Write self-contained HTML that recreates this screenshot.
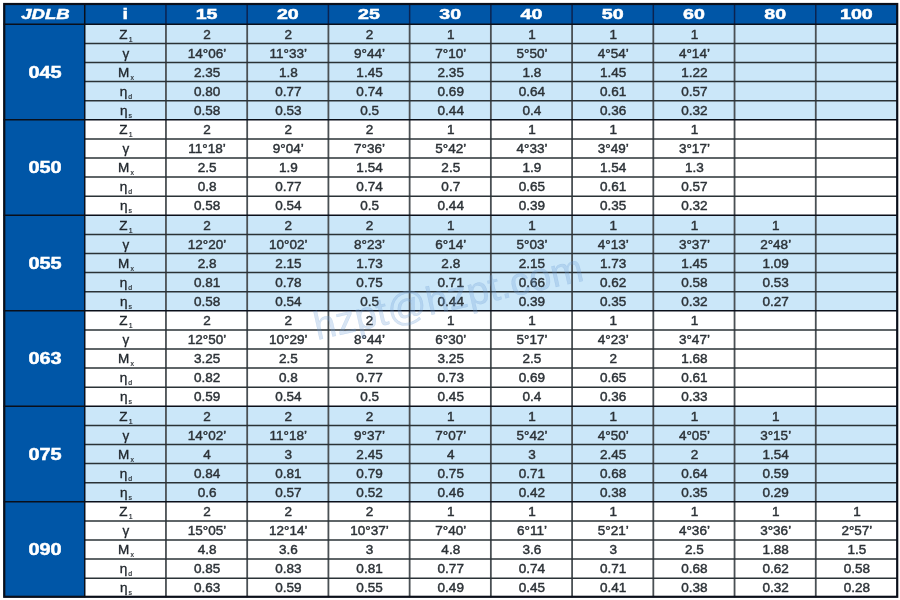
<!DOCTYPE html>
<html><head><meta charset="utf-8"><style>
html,body{margin:0;padding:0;background:#fff;width:900px;height:600px;overflow:hidden}
svg{display:block;filter:blur(0.35px)}
text{font-family:"Liberation Sans",sans-serif;text-anchor:middle}
.h{font-size:15.2px;font-weight:bold;fill:#fff;stroke:#fff;stroke-width:0.5}
.g{font-size:15.8px;font-weight:bold;fill:#fff;stroke:#fff;stroke-width:0.5}
.d{font-size:12.3px;fill:#2c3237;stroke:#2c3237;stroke-width:0.42}
.p{fill:#22282e;stroke:#22282e;stroke-width:0.3}
.sub{font-size:6.3px;stroke-width:0.15}
.wm{font-size:39.5px;fill:#6f9fd6;fill-opacity:0.27;stroke:#6f9fd6;stroke-opacity:0.27;stroke-width:0.4;text-anchor:start}
</style></head><body>
<svg width="900" height="600" viewBox="0 0 900 600">
<rect x="0" y="0" width="900" height="600" fill="#fff"/>
<rect x="3.5" y="3.3" width="893.5" height="21.0" fill="#0056a7"/>
<rect x="3.5" y="24.3" width="81.22727272727273" height="573.0" fill="#0056a7"/>
<rect x="84.72727272727273" y="24.3" width="812.2727272727273" height="95.5" fill="#cbe7f9"/>
<rect x="84.72727272727273" y="119.8" width="812.2727272727273" height="95.5" fill="#ffffff"/>
<rect x="84.72727272727273" y="215.3" width="812.2727272727273" height="95.5" fill="#cbe7f9"/>
<rect x="84.72727272727273" y="310.8" width="812.2727272727273" height="95.5" fill="#ffffff"/>
<rect x="84.72727272727273" y="406.3" width="812.2727272727273" height="95.5" fill="#cbe7f9"/>
<rect x="84.72727272727273" y="501.80000000000007" width="812.2727272727273" height="95.5" fill="#ffffff"/>
<line x1="165.95454545454547" y1="24.3" x2="165.95454545454547" y2="597.3" stroke="#4a5054" stroke-width="1.8"/>
<line x1="165.95454545454547" y1="3.3" x2="165.95454545454547" y2="24.3" stroke="#0b2350" stroke-width="1.5"/>
<line x1="247.1818181818182" y1="24.3" x2="247.1818181818182" y2="597.3" stroke="#4a5054" stroke-width="1.8"/>
<line x1="247.1818181818182" y1="3.3" x2="247.1818181818182" y2="24.3" stroke="#0b2350" stroke-width="1.5"/>
<line x1="328.40909090909093" y1="24.3" x2="328.40909090909093" y2="597.3" stroke="#4a5054" stroke-width="1.8"/>
<line x1="328.40909090909093" y1="3.3" x2="328.40909090909093" y2="24.3" stroke="#0b2350" stroke-width="1.5"/>
<line x1="409.6363636363637" y1="24.3" x2="409.6363636363637" y2="597.3" stroke="#4a5054" stroke-width="1.8"/>
<line x1="409.6363636363637" y1="3.3" x2="409.6363636363637" y2="24.3" stroke="#0b2350" stroke-width="1.5"/>
<line x1="490.8636363636364" y1="24.3" x2="490.8636363636364" y2="597.3" stroke="#4a5054" stroke-width="1.8"/>
<line x1="490.8636363636364" y1="3.3" x2="490.8636363636364" y2="24.3" stroke="#0b2350" stroke-width="1.5"/>
<line x1="572.0909090909091" y1="24.3" x2="572.0909090909091" y2="597.3" stroke="#4a5054" stroke-width="1.8"/>
<line x1="572.0909090909091" y1="3.3" x2="572.0909090909091" y2="24.3" stroke="#0b2350" stroke-width="1.5"/>
<line x1="653.3181818181819" y1="24.3" x2="653.3181818181819" y2="597.3" stroke="#4a5054" stroke-width="1.8"/>
<line x1="653.3181818181819" y1="3.3" x2="653.3181818181819" y2="24.3" stroke="#0b2350" stroke-width="1.5"/>
<line x1="734.5454545454546" y1="24.3" x2="734.5454545454546" y2="597.3" stroke="#4a5054" stroke-width="1.8"/>
<line x1="734.5454545454546" y1="3.3" x2="734.5454545454546" y2="24.3" stroke="#0b2350" stroke-width="1.5"/>
<line x1="815.7727272727274" y1="24.3" x2="815.7727272727274" y2="597.3" stroke="#4a5054" stroke-width="1.8"/>
<line x1="815.7727272727274" y1="3.3" x2="815.7727272727274" y2="24.3" stroke="#0b2350" stroke-width="1.5"/>
<line x1="84.72727272727273" y1="43.400000000000006" x2="897.0" y2="43.400000000000006" stroke="#2a3236" stroke-width="1.5"/>
<line x1="84.72727272727273" y1="62.5" x2="897.0" y2="62.5" stroke="#2a3236" stroke-width="1.5"/>
<line x1="84.72727272727273" y1="81.60000000000001" x2="897.0" y2="81.60000000000001" stroke="#2a3236" stroke-width="1.5"/>
<line x1="84.72727272727273" y1="100.7" x2="897.0" y2="100.7" stroke="#2a3236" stroke-width="1.5"/>
<line x1="3.5" y1="119.8" x2="897.0" y2="119.8" stroke="#0a0f1a" stroke-width="1.5"/>
<line x1="84.72727272727273" y1="138.9" x2="897.0" y2="138.9" stroke="#2a3236" stroke-width="1.5"/>
<line x1="84.72727272727273" y1="158.00000000000003" x2="897.0" y2="158.00000000000003" stroke="#2a3236" stroke-width="1.5"/>
<line x1="84.72727272727273" y1="177.10000000000002" x2="897.0" y2="177.10000000000002" stroke="#2a3236" stroke-width="1.5"/>
<line x1="84.72727272727273" y1="196.20000000000002" x2="897.0" y2="196.20000000000002" stroke="#2a3236" stroke-width="1.5"/>
<line x1="3.5" y1="215.3" x2="897.0" y2="215.3" stroke="#0a0f1a" stroke-width="1.5"/>
<line x1="84.72727272727273" y1="234.40000000000003" x2="897.0" y2="234.40000000000003" stroke="#2a3236" stroke-width="1.5"/>
<line x1="84.72727272727273" y1="253.50000000000003" x2="897.0" y2="253.50000000000003" stroke="#2a3236" stroke-width="1.5"/>
<line x1="84.72727272727273" y1="272.6" x2="897.0" y2="272.6" stroke="#2a3236" stroke-width="1.5"/>
<line x1="84.72727272727273" y1="291.70000000000005" x2="897.0" y2="291.70000000000005" stroke="#2a3236" stroke-width="1.5"/>
<line x1="3.5" y1="310.8" x2="897.0" y2="310.8" stroke="#0a0f1a" stroke-width="1.5"/>
<line x1="84.72727272727273" y1="329.90000000000003" x2="897.0" y2="329.90000000000003" stroke="#2a3236" stroke-width="1.5"/>
<line x1="84.72727272727273" y1="349.00000000000006" x2="897.0" y2="349.00000000000006" stroke="#2a3236" stroke-width="1.5"/>
<line x1="84.72727272727273" y1="368.1" x2="897.0" y2="368.1" stroke="#2a3236" stroke-width="1.5"/>
<line x1="84.72727272727273" y1="387.20000000000005" x2="897.0" y2="387.20000000000005" stroke="#2a3236" stroke-width="1.5"/>
<line x1="3.5" y1="406.3" x2="897.0" y2="406.3" stroke="#0a0f1a" stroke-width="1.5"/>
<line x1="84.72727272727273" y1="425.40000000000003" x2="897.0" y2="425.40000000000003" stroke="#2a3236" stroke-width="1.5"/>
<line x1="84.72727272727273" y1="444.50000000000006" x2="897.0" y2="444.50000000000006" stroke="#2a3236" stroke-width="1.5"/>
<line x1="84.72727272727273" y1="463.6" x2="897.0" y2="463.6" stroke="#2a3236" stroke-width="1.5"/>
<line x1="84.72727272727273" y1="482.70000000000005" x2="897.0" y2="482.70000000000005" stroke="#2a3236" stroke-width="1.5"/>
<line x1="3.5" y1="501.80000000000007" x2="897.0" y2="501.80000000000007" stroke="#0a0f1a" stroke-width="1.5"/>
<line x1="84.72727272727273" y1="520.9" x2="897.0" y2="520.9" stroke="#2a3236" stroke-width="1.5"/>
<line x1="84.72727272727273" y1="540.0" x2="897.0" y2="540.0" stroke="#2a3236" stroke-width="1.5"/>
<line x1="84.72727272727273" y1="559.1" x2="897.0" y2="559.1" stroke="#2a3236" stroke-width="1.5"/>
<line x1="84.72727272727273" y1="578.2" x2="897.0" y2="578.2" stroke="#2a3236" stroke-width="1.5"/>
<line x1="84.72727272727273" y1="3.3" x2="84.72727272727273" y2="597.3" stroke="#0a0f1a" stroke-width="1.5"/>
<line x1="3.5" y1="24.3" x2="897.0" y2="24.3" stroke="#0a0f1a" stroke-width="1.5"/>
<rect x="4.25" y="4.0" width="892.95" height="592.8" fill="none" stroke="#0a0f1a" stroke-width="2.2"/>
<text transform="translate(45.41,18.70) scale(1.22,1)" class="h" style="font-style:italic;">JDLB</text>
<text transform="translate(125.34,18.70) scale(1.29,1)" class="h" style="">i</text>
<text transform="translate(206.57,18.70) scale(1.29,1)" class="h" style="">15</text>
<text transform="translate(287.80,18.70) scale(1.29,1)" class="h" style="">20</text>
<text transform="translate(369.02,18.70) scale(1.29,1)" class="h" style="">25</text>
<text transform="translate(450.25,18.70) scale(1.29,1)" class="h" style="">30</text>
<text transform="translate(531.48,18.70) scale(1.29,1)" class="h" style="">40</text>
<text transform="translate(612.70,18.70) scale(1.29,1)" class="h" style="">50</text>
<text transform="translate(693.93,18.70) scale(1.29,1)" class="h" style="">60</text>
<text transform="translate(775.16,18.70) scale(1.29,1)" class="h" style="">80</text>
<text transform="translate(856.39,18.70) scale(1.29,1)" class="h" style="">100</text>
<text transform="translate(45.01,77.74) scale(1.26,1)" class="g">045</text>
<text transform="translate(125.94,38.50) scale(1.1,1)" class="d p">Z<tspan class="sub" dx="1" dy="3">1</tspan></text>
<text transform="translate(207.07,38.50) scale(1.1,1)" class="d">2</text>
<text transform="translate(288.30,38.50) scale(1.1,1)" class="d">2</text>
<text transform="translate(369.52,38.50) scale(1.1,1)" class="d">2</text>
<text transform="translate(450.75,38.50) scale(1.1,1)" class="d">1</text>
<text transform="translate(531.98,38.50) scale(1.1,1)" class="d">1</text>
<text transform="translate(613.20,38.50) scale(1.1,1)" class="d">1</text>
<text transform="translate(694.43,38.50) scale(1.1,1)" class="d">1</text>
<text transform="translate(125.94,57.60) scale(1.1,1)" class="d p">γ</text>
<text transform="translate(207.07,57.60) scale(1.1,1)" class="d">14°06’</text>
<text transform="translate(288.30,57.60) scale(1.1,1)" class="d">11°33’</text>
<text transform="translate(369.52,57.60) scale(1.1,1)" class="d">9°44’</text>
<text transform="translate(450.75,57.60) scale(1.1,1)" class="d">7°10’</text>
<text transform="translate(531.98,57.60) scale(1.1,1)" class="d">5°50’</text>
<text transform="translate(613.20,57.60) scale(1.1,1)" class="d">4°54’</text>
<text transform="translate(694.43,57.60) scale(1.1,1)" class="d">4°14’</text>
<text transform="translate(125.94,76.70) scale(1.1,1)" class="d p">M<tspan class="sub" dx="1" dy="3">x</tspan></text>
<text transform="translate(207.07,76.70) scale(1.1,1)" class="d">2.35</text>
<text transform="translate(288.30,76.70) scale(1.1,1)" class="d">1.8</text>
<text transform="translate(369.52,76.70) scale(1.1,1)" class="d">1.45</text>
<text transform="translate(450.75,76.70) scale(1.1,1)" class="d">2.35</text>
<text transform="translate(531.98,76.70) scale(1.1,1)" class="d">1.8</text>
<text transform="translate(613.20,76.70) scale(1.1,1)" class="d">1.45</text>
<text transform="translate(694.43,76.70) scale(1.1,1)" class="d">1.22</text>
<text transform="translate(125.94,95.80) scale(1.1,1)" class="d p">η<tspan class="sub" dx="1" dy="3">d</tspan></text>
<text transform="translate(207.07,95.80) scale(1.1,1)" class="d">0.80</text>
<text transform="translate(288.30,95.80) scale(1.1,1)" class="d">0.77</text>
<text transform="translate(369.52,95.80) scale(1.1,1)" class="d">0.74</text>
<text transform="translate(450.75,95.80) scale(1.1,1)" class="d">0.69</text>
<text transform="translate(531.98,95.80) scale(1.1,1)" class="d">0.64</text>
<text transform="translate(613.20,95.80) scale(1.1,1)" class="d">0.61</text>
<text transform="translate(694.43,95.80) scale(1.1,1)" class="d">0.57</text>
<text transform="translate(125.94,114.90) scale(1.1,1)" class="d p">η<tspan class="sub" dx="1" dy="3">s</tspan></text>
<text transform="translate(207.07,114.90) scale(1.1,1)" class="d">0.58</text>
<text transform="translate(288.30,114.90) scale(1.1,1)" class="d">0.53</text>
<text transform="translate(369.52,114.90) scale(1.1,1)" class="d">0.5</text>
<text transform="translate(450.75,114.90) scale(1.1,1)" class="d">0.44</text>
<text transform="translate(531.98,114.90) scale(1.1,1)" class="d">0.4</text>
<text transform="translate(613.20,114.90) scale(1.1,1)" class="d">0.36</text>
<text transform="translate(694.43,114.90) scale(1.1,1)" class="d">0.32</text>
<text transform="translate(45.01,173.24) scale(1.26,1)" class="g">050</text>
<text transform="translate(125.94,134.00) scale(1.1,1)" class="d p">Z<tspan class="sub" dx="1" dy="3">1</tspan></text>
<text transform="translate(207.07,134.00) scale(1.1,1)" class="d">2</text>
<text transform="translate(288.30,134.00) scale(1.1,1)" class="d">2</text>
<text transform="translate(369.52,134.00) scale(1.1,1)" class="d">2</text>
<text transform="translate(450.75,134.00) scale(1.1,1)" class="d">1</text>
<text transform="translate(531.98,134.00) scale(1.1,1)" class="d">1</text>
<text transform="translate(613.20,134.00) scale(1.1,1)" class="d">1</text>
<text transform="translate(694.43,134.00) scale(1.1,1)" class="d">1</text>
<text transform="translate(125.94,153.10) scale(1.1,1)" class="d p">γ</text>
<text transform="translate(207.07,153.10) scale(1.1,1)" class="d">11°18’</text>
<text transform="translate(288.30,153.10) scale(1.1,1)" class="d">9°04’</text>
<text transform="translate(369.52,153.10) scale(1.1,1)" class="d">7°36’</text>
<text transform="translate(450.75,153.10) scale(1.1,1)" class="d">5°42’</text>
<text transform="translate(531.98,153.10) scale(1.1,1)" class="d">4°33’</text>
<text transform="translate(613.20,153.10) scale(1.1,1)" class="d">3°49’</text>
<text transform="translate(694.43,153.10) scale(1.1,1)" class="d">3°17’</text>
<text transform="translate(125.94,172.20) scale(1.1,1)" class="d p">M<tspan class="sub" dx="1" dy="3">x</tspan></text>
<text transform="translate(207.07,172.20) scale(1.1,1)" class="d">2.5</text>
<text transform="translate(288.30,172.20) scale(1.1,1)" class="d">1.9</text>
<text transform="translate(369.52,172.20) scale(1.1,1)" class="d">1.54</text>
<text transform="translate(450.75,172.20) scale(1.1,1)" class="d">2.5</text>
<text transform="translate(531.98,172.20) scale(1.1,1)" class="d">1.9</text>
<text transform="translate(613.20,172.20) scale(1.1,1)" class="d">1.54</text>
<text transform="translate(694.43,172.20) scale(1.1,1)" class="d">1.3</text>
<text transform="translate(125.94,191.30) scale(1.1,1)" class="d p">η<tspan class="sub" dx="1" dy="3">d</tspan></text>
<text transform="translate(207.07,191.30) scale(1.1,1)" class="d">0.8</text>
<text transform="translate(288.30,191.30) scale(1.1,1)" class="d">0.77</text>
<text transform="translate(369.52,191.30) scale(1.1,1)" class="d">0.74</text>
<text transform="translate(450.75,191.30) scale(1.1,1)" class="d">0.7</text>
<text transform="translate(531.98,191.30) scale(1.1,1)" class="d">0.65</text>
<text transform="translate(613.20,191.30) scale(1.1,1)" class="d">0.61</text>
<text transform="translate(694.43,191.30) scale(1.1,1)" class="d">0.57</text>
<text transform="translate(125.94,210.40) scale(1.1,1)" class="d p">η<tspan class="sub" dx="1" dy="3">s</tspan></text>
<text transform="translate(207.07,210.40) scale(1.1,1)" class="d">0.58</text>
<text transform="translate(288.30,210.40) scale(1.1,1)" class="d">0.54</text>
<text transform="translate(369.52,210.40) scale(1.1,1)" class="d">0.5</text>
<text transform="translate(450.75,210.40) scale(1.1,1)" class="d">0.44</text>
<text transform="translate(531.98,210.40) scale(1.1,1)" class="d">0.39</text>
<text transform="translate(613.20,210.40) scale(1.1,1)" class="d">0.35</text>
<text transform="translate(694.43,210.40) scale(1.1,1)" class="d">0.32</text>
<text transform="translate(45.01,268.74) scale(1.26,1)" class="g">055</text>
<text transform="translate(125.94,229.50) scale(1.1,1)" class="d p">Z<tspan class="sub" dx="1" dy="3">1</tspan></text>
<text transform="translate(207.07,229.50) scale(1.1,1)" class="d">2</text>
<text transform="translate(288.30,229.50) scale(1.1,1)" class="d">2</text>
<text transform="translate(369.52,229.50) scale(1.1,1)" class="d">2</text>
<text transform="translate(450.75,229.50) scale(1.1,1)" class="d">1</text>
<text transform="translate(531.98,229.50) scale(1.1,1)" class="d">1</text>
<text transform="translate(613.20,229.50) scale(1.1,1)" class="d">1</text>
<text transform="translate(694.43,229.50) scale(1.1,1)" class="d">1</text>
<text transform="translate(775.66,229.50) scale(1.1,1)" class="d">1</text>
<text transform="translate(125.94,248.60) scale(1.1,1)" class="d p">γ</text>
<text transform="translate(207.07,248.60) scale(1.1,1)" class="d">12°20’</text>
<text transform="translate(288.30,248.60) scale(1.1,1)" class="d">10°02’</text>
<text transform="translate(369.52,248.60) scale(1.1,1)" class="d">8°23’</text>
<text transform="translate(450.75,248.60) scale(1.1,1)" class="d">6°14’</text>
<text transform="translate(531.98,248.60) scale(1.1,1)" class="d">5°03’</text>
<text transform="translate(613.20,248.60) scale(1.1,1)" class="d">4°13’</text>
<text transform="translate(694.43,248.60) scale(1.1,1)" class="d">3°37’</text>
<text transform="translate(775.66,248.60) scale(1.1,1)" class="d">2°48’</text>
<text transform="translate(125.94,267.70) scale(1.1,1)" class="d p">M<tspan class="sub" dx="1" dy="3">x</tspan></text>
<text transform="translate(207.07,267.70) scale(1.1,1)" class="d">2.8</text>
<text transform="translate(288.30,267.70) scale(1.1,1)" class="d">2.15</text>
<text transform="translate(369.52,267.70) scale(1.1,1)" class="d">1.73</text>
<text transform="translate(450.75,267.70) scale(1.1,1)" class="d">2.8</text>
<text transform="translate(531.98,267.70) scale(1.1,1)" class="d">2.15</text>
<text transform="translate(613.20,267.70) scale(1.1,1)" class="d">1.73</text>
<text transform="translate(694.43,267.70) scale(1.1,1)" class="d">1.45</text>
<text transform="translate(775.66,267.70) scale(1.1,1)" class="d">1.09</text>
<text transform="translate(125.94,286.80) scale(1.1,1)" class="d p">η<tspan class="sub" dx="1" dy="3">d</tspan></text>
<text transform="translate(207.07,286.80) scale(1.1,1)" class="d">0.81</text>
<text transform="translate(288.30,286.80) scale(1.1,1)" class="d">0.78</text>
<text transform="translate(369.52,286.80) scale(1.1,1)" class="d">0.75</text>
<text transform="translate(450.75,286.80) scale(1.1,1)" class="d">0.71</text>
<text transform="translate(531.98,286.80) scale(1.1,1)" class="d">0.66</text>
<text transform="translate(613.20,286.80) scale(1.1,1)" class="d">0.62</text>
<text transform="translate(694.43,286.80) scale(1.1,1)" class="d">0.58</text>
<text transform="translate(775.66,286.80) scale(1.1,1)" class="d">0.53</text>
<text transform="translate(125.94,305.90) scale(1.1,1)" class="d p">η<tspan class="sub" dx="1" dy="3">s</tspan></text>
<text transform="translate(207.07,305.90) scale(1.1,1)" class="d">0.58</text>
<text transform="translate(288.30,305.90) scale(1.1,1)" class="d">0.54</text>
<text transform="translate(369.52,305.90) scale(1.1,1)" class="d">0.5</text>
<text transform="translate(450.75,305.90) scale(1.1,1)" class="d">0.44</text>
<text transform="translate(531.98,305.90) scale(1.1,1)" class="d">0.39</text>
<text transform="translate(613.20,305.90) scale(1.1,1)" class="d">0.35</text>
<text transform="translate(694.43,305.90) scale(1.1,1)" class="d">0.32</text>
<text transform="translate(775.66,305.90) scale(1.1,1)" class="d">0.27</text>
<text transform="translate(45.01,364.24) scale(1.26,1)" class="g">063</text>
<text transform="translate(125.94,325.00) scale(1.1,1)" class="d p">Z<tspan class="sub" dx="1" dy="3">1</tspan></text>
<text transform="translate(207.07,325.00) scale(1.1,1)" class="d">2</text>
<text transform="translate(288.30,325.00) scale(1.1,1)" class="d">2</text>
<text transform="translate(369.52,325.00) scale(1.1,1)" class="d">2</text>
<text transform="translate(450.75,325.00) scale(1.1,1)" class="d">1</text>
<text transform="translate(531.98,325.00) scale(1.1,1)" class="d">1</text>
<text transform="translate(613.20,325.00) scale(1.1,1)" class="d">1</text>
<text transform="translate(694.43,325.00) scale(1.1,1)" class="d">1</text>
<text transform="translate(125.94,344.10) scale(1.1,1)" class="d p">γ</text>
<text transform="translate(207.07,344.10) scale(1.1,1)" class="d">12°50’</text>
<text transform="translate(288.30,344.10) scale(1.1,1)" class="d">10°29’</text>
<text transform="translate(369.52,344.10) scale(1.1,1)" class="d">8°44’</text>
<text transform="translate(450.75,344.10) scale(1.1,1)" class="d">6°30’</text>
<text transform="translate(531.98,344.10) scale(1.1,1)" class="d">5°17’</text>
<text transform="translate(613.20,344.10) scale(1.1,1)" class="d">4°23’</text>
<text transform="translate(694.43,344.10) scale(1.1,1)" class="d">3°47’</text>
<text transform="translate(125.94,363.20) scale(1.1,1)" class="d p">M<tspan class="sub" dx="1" dy="3">x</tspan></text>
<text transform="translate(207.07,363.20) scale(1.1,1)" class="d">3.25</text>
<text transform="translate(288.30,363.20) scale(1.1,1)" class="d">2.5</text>
<text transform="translate(369.52,363.20) scale(1.1,1)" class="d">2</text>
<text transform="translate(450.75,363.20) scale(1.1,1)" class="d">3.25</text>
<text transform="translate(531.98,363.20) scale(1.1,1)" class="d">2.5</text>
<text transform="translate(613.20,363.20) scale(1.1,1)" class="d">2</text>
<text transform="translate(694.43,363.20) scale(1.1,1)" class="d">1.68</text>
<text transform="translate(125.94,382.30) scale(1.1,1)" class="d p">η<tspan class="sub" dx="1" dy="3">d</tspan></text>
<text transform="translate(207.07,382.30) scale(1.1,1)" class="d">0.82</text>
<text transform="translate(288.30,382.30) scale(1.1,1)" class="d">0.8</text>
<text transform="translate(369.52,382.30) scale(1.1,1)" class="d">0.77</text>
<text transform="translate(450.75,382.30) scale(1.1,1)" class="d">0.73</text>
<text transform="translate(531.98,382.30) scale(1.1,1)" class="d">0.69</text>
<text transform="translate(613.20,382.30) scale(1.1,1)" class="d">0.65</text>
<text transform="translate(694.43,382.30) scale(1.1,1)" class="d">0.61</text>
<text transform="translate(125.94,401.40) scale(1.1,1)" class="d p">η<tspan class="sub" dx="1" dy="3">s</tspan></text>
<text transform="translate(207.07,401.40) scale(1.1,1)" class="d">0.59</text>
<text transform="translate(288.30,401.40) scale(1.1,1)" class="d">0.54</text>
<text transform="translate(369.52,401.40) scale(1.1,1)" class="d">0.5</text>
<text transform="translate(450.75,401.40) scale(1.1,1)" class="d">0.45</text>
<text transform="translate(531.98,401.40) scale(1.1,1)" class="d">0.4</text>
<text transform="translate(613.20,401.40) scale(1.1,1)" class="d">0.36</text>
<text transform="translate(694.43,401.40) scale(1.1,1)" class="d">0.33</text>
<text transform="translate(45.01,459.74) scale(1.26,1)" class="g">075</text>
<text transform="translate(125.94,420.50) scale(1.1,1)" class="d p">Z<tspan class="sub" dx="1" dy="3">1</tspan></text>
<text transform="translate(207.07,420.50) scale(1.1,1)" class="d">2</text>
<text transform="translate(288.30,420.50) scale(1.1,1)" class="d">2</text>
<text transform="translate(369.52,420.50) scale(1.1,1)" class="d">2</text>
<text transform="translate(450.75,420.50) scale(1.1,1)" class="d">1</text>
<text transform="translate(531.98,420.50) scale(1.1,1)" class="d">1</text>
<text transform="translate(613.20,420.50) scale(1.1,1)" class="d">1</text>
<text transform="translate(694.43,420.50) scale(1.1,1)" class="d">1</text>
<text transform="translate(775.66,420.50) scale(1.1,1)" class="d">1</text>
<text transform="translate(125.94,439.60) scale(1.1,1)" class="d p">γ</text>
<text transform="translate(207.07,439.60) scale(1.1,1)" class="d">14°02’</text>
<text transform="translate(288.30,439.60) scale(1.1,1)" class="d">11°18’</text>
<text transform="translate(369.52,439.60) scale(1.1,1)" class="d">9°37’</text>
<text transform="translate(450.75,439.60) scale(1.1,1)" class="d">7°07’</text>
<text transform="translate(531.98,439.60) scale(1.1,1)" class="d">5°42’</text>
<text transform="translate(613.20,439.60) scale(1.1,1)" class="d">4°50’</text>
<text transform="translate(694.43,439.60) scale(1.1,1)" class="d">4°05’</text>
<text transform="translate(775.66,439.60) scale(1.1,1)" class="d">3°15’</text>
<text transform="translate(125.94,458.70) scale(1.1,1)" class="d p">M<tspan class="sub" dx="1" dy="3">x</tspan></text>
<text transform="translate(207.07,458.70) scale(1.1,1)" class="d">4</text>
<text transform="translate(288.30,458.70) scale(1.1,1)" class="d">3</text>
<text transform="translate(369.52,458.70) scale(1.1,1)" class="d">2.45</text>
<text transform="translate(450.75,458.70) scale(1.1,1)" class="d">4</text>
<text transform="translate(531.98,458.70) scale(1.1,1)" class="d">3</text>
<text transform="translate(613.20,458.70) scale(1.1,1)" class="d">2.45</text>
<text transform="translate(694.43,458.70) scale(1.1,1)" class="d">2</text>
<text transform="translate(775.66,458.70) scale(1.1,1)" class="d">1.54</text>
<text transform="translate(125.94,477.80) scale(1.1,1)" class="d p">η<tspan class="sub" dx="1" dy="3">d</tspan></text>
<text transform="translate(207.07,477.80) scale(1.1,1)" class="d">0.84</text>
<text transform="translate(288.30,477.80) scale(1.1,1)" class="d">0.81</text>
<text transform="translate(369.52,477.80) scale(1.1,1)" class="d">0.79</text>
<text transform="translate(450.75,477.80) scale(1.1,1)" class="d">0.75</text>
<text transform="translate(531.98,477.80) scale(1.1,1)" class="d">0.71</text>
<text transform="translate(613.20,477.80) scale(1.1,1)" class="d">0.68</text>
<text transform="translate(694.43,477.80) scale(1.1,1)" class="d">0.64</text>
<text transform="translate(775.66,477.80) scale(1.1,1)" class="d">0.59</text>
<text transform="translate(125.94,496.90) scale(1.1,1)" class="d p">η<tspan class="sub" dx="1" dy="3">s</tspan></text>
<text transform="translate(207.07,496.90) scale(1.1,1)" class="d">0.6</text>
<text transform="translate(288.30,496.90) scale(1.1,1)" class="d">0.57</text>
<text transform="translate(369.52,496.90) scale(1.1,1)" class="d">0.52</text>
<text transform="translate(450.75,496.90) scale(1.1,1)" class="d">0.46</text>
<text transform="translate(531.98,496.90) scale(1.1,1)" class="d">0.42</text>
<text transform="translate(613.20,496.90) scale(1.1,1)" class="d">0.38</text>
<text transform="translate(694.43,496.90) scale(1.1,1)" class="d">0.35</text>
<text transform="translate(775.66,496.90) scale(1.1,1)" class="d">0.29</text>
<text transform="translate(45.01,555.24) scale(1.26,1)" class="g">090</text>
<text transform="translate(125.94,516.00) scale(1.1,1)" class="d p">Z<tspan class="sub" dx="1" dy="3">1</tspan></text>
<text transform="translate(207.07,516.00) scale(1.1,1)" class="d">2</text>
<text transform="translate(288.30,516.00) scale(1.1,1)" class="d">2</text>
<text transform="translate(369.52,516.00) scale(1.1,1)" class="d">2</text>
<text transform="translate(450.75,516.00) scale(1.1,1)" class="d">1</text>
<text transform="translate(531.98,516.00) scale(1.1,1)" class="d">1</text>
<text transform="translate(613.20,516.00) scale(1.1,1)" class="d">1</text>
<text transform="translate(694.43,516.00) scale(1.1,1)" class="d">1</text>
<text transform="translate(775.66,516.00) scale(1.1,1)" class="d">1</text>
<text transform="translate(856.89,516.00) scale(1.1,1)" class="d">1</text>
<text transform="translate(125.94,535.10) scale(1.1,1)" class="d p">γ</text>
<text transform="translate(207.07,535.10) scale(1.1,1)" class="d">15°05’</text>
<text transform="translate(288.30,535.10) scale(1.1,1)" class="d">12°14’</text>
<text transform="translate(369.52,535.10) scale(1.1,1)" class="d">10°37’</text>
<text transform="translate(450.75,535.10) scale(1.1,1)" class="d">7°40’</text>
<text transform="translate(531.98,535.10) scale(1.1,1)" class="d">6°11’</text>
<text transform="translate(613.20,535.10) scale(1.1,1)" class="d">5°21’</text>
<text transform="translate(694.43,535.10) scale(1.1,1)" class="d">4°36’</text>
<text transform="translate(775.66,535.10) scale(1.1,1)" class="d">3°36’</text>
<text transform="translate(856.89,535.10) scale(1.1,1)" class="d">2°57’</text>
<text transform="translate(125.94,554.20) scale(1.1,1)" class="d p">M<tspan class="sub" dx="1" dy="3">x</tspan></text>
<text transform="translate(207.07,554.20) scale(1.1,1)" class="d">4.8</text>
<text transform="translate(288.30,554.20) scale(1.1,1)" class="d">3.6</text>
<text transform="translate(369.52,554.20) scale(1.1,1)" class="d">3</text>
<text transform="translate(450.75,554.20) scale(1.1,1)" class="d">4.8</text>
<text transform="translate(531.98,554.20) scale(1.1,1)" class="d">3.6</text>
<text transform="translate(613.20,554.20) scale(1.1,1)" class="d">3</text>
<text transform="translate(694.43,554.20) scale(1.1,1)" class="d">2.5</text>
<text transform="translate(775.66,554.20) scale(1.1,1)" class="d">1.88</text>
<text transform="translate(856.89,554.20) scale(1.1,1)" class="d">1.5</text>
<text transform="translate(125.94,573.30) scale(1.1,1)" class="d p">η<tspan class="sub" dx="1" dy="3">d</tspan></text>
<text transform="translate(207.07,573.30) scale(1.1,1)" class="d">0.85</text>
<text transform="translate(288.30,573.30) scale(1.1,1)" class="d">0.83</text>
<text transform="translate(369.52,573.30) scale(1.1,1)" class="d">0.81</text>
<text transform="translate(450.75,573.30) scale(1.1,1)" class="d">0.77</text>
<text transform="translate(531.98,573.30) scale(1.1,1)" class="d">0.74</text>
<text transform="translate(613.20,573.30) scale(1.1,1)" class="d">0.71</text>
<text transform="translate(694.43,573.30) scale(1.1,1)" class="d">0.68</text>
<text transform="translate(775.66,573.30) scale(1.1,1)" class="d">0.62</text>
<text transform="translate(856.89,573.30) scale(1.1,1)" class="d">0.58</text>
<text transform="translate(125.94,592.40) scale(1.1,1)" class="d p">η<tspan class="sub" dx="1" dy="3">s</tspan></text>
<text transform="translate(207.07,592.40) scale(1.1,1)" class="d">0.63</text>
<text transform="translate(288.30,592.40) scale(1.1,1)" class="d">0.59</text>
<text transform="translate(369.52,592.40) scale(1.1,1)" class="d">0.55</text>
<text transform="translate(450.75,592.40) scale(1.1,1)" class="d">0.49</text>
<text transform="translate(531.98,592.40) scale(1.1,1)" class="d">0.45</text>
<text transform="translate(613.20,592.40) scale(1.1,1)" class="d">0.41</text>
<text transform="translate(694.43,592.40) scale(1.1,1)" class="d">0.38</text>
<text transform="translate(775.66,592.40) scale(1.1,1)" class="d">0.32</text>
<text transform="translate(856.89,592.40) scale(1.1,1)" class="d">0.28</text>
<text transform="translate(317,340) rotate(-12.5)" class="wm">hzpt@hzpt.com</text>
</svg></body></html>
